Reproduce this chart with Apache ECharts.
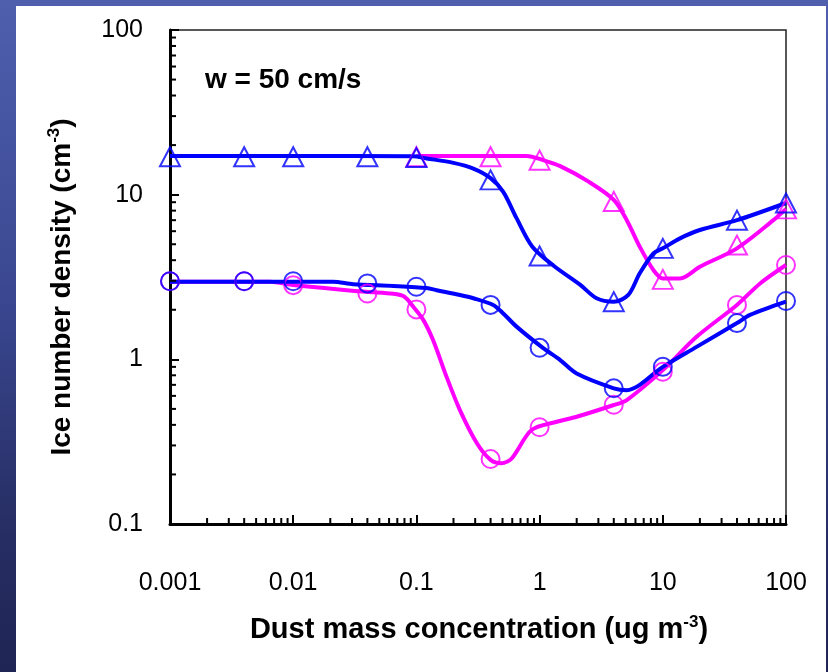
<!DOCTYPE html>
<html>
<head>
<meta charset="utf-8">
<script src="https://cdn.jsdelivr.net/npm/echarts@6/dist/echarts.min.js"></script>
<style>
  html, body { margin: 0; padding: 0; }
  body { width: 828px; height: 672px; position: relative; overflow: hidden;
         background: linear-gradient(180deg, #4f5fae 0%, #3a4790 45%, #262d62 80%, #1f2554 100%); }
  #panel { position: absolute; left: 16px; top: 6px; width: 810px; height: 666px; background: #fff; }
  #chart { position: absolute; left: 0; top: 0; width: 828px; height: 672px; }
</style>
</head>
<body>
<div id="panel"></div>
<div id="chart"></div>
<script>
// ---- data ----
var markerX = [0.001, 0.004, 0.01, 0.04, 0.1, 0.4, 1, 4, 10, 40, 100];
var blueTriangle = [17, 17, 17, 17, 16.8, 12.3, 4.24, 2.24, 4.72, 7.0, 8.9];
var blueCircle = [2.98, 2.98, 2.98, 2.89, 2.76, 2.14, 1.175, 0.667, 0.90, 1.66, 2.26];
var magentaCircle = [2.98, 2.98, 2.82, 2.51, 2.01, 0.248, 0.387, 0.53, 0.84, 2.14, 3.74];
var magentaTriX = [0.1, 0.4, 1, 4, 10, 40, 100];
var magentaTriangle = [17, 17, 16.2, 9.1, 3.06, 4.94, 8.2];

// model curves (x, y)
var blueTriCurveX = [0.001, 0.01, 0.094, 0.121, 0.2, 0.29, 0.4, 0.507, 0.65, 0.87, 1.3, 2.14, 2.9, 4, 5.25, 6.5, 8.4, 10, 13.8, 20, 40, 100];
var blueTriCurveY = [17.2, 17.2, 17.1, 16.6, 15.6, 14.4, 12.6, 10.4, 7.2, 4.85, 3.7, 2.83, 2.35, 2.24, 2.46, 3.33, 4.4, 4.72, 5.43, 6.1, 7.0, 8.9];
var magTriCurveX = [0.1, 0.4, 0.785, 1.07, 1.47, 2.5, 4, 5.1, 6.5, 8.4, 10, 13.8, 20, 40, 79, 100];
var magTriCurveY = [17.2, 17.2, 17.2, 16.2, 14.9, 12.0, 9.3, 7.0, 4.83, 3.48, 3.1, 3.1, 3.65, 4.72, 7.0, 8.2];
var blueCirCurveX = [0.001, 0.021, 0.0307, 0.065, 0.121, 0.146, 0.226, 0.29, 0.42, 0.507, 0.65, 1.07, 1.47, 2.0, 4, 5.1, 10, 18.8, 40, 51, 100];
var blueCirCurveY = [2.96, 2.96, 2.86, 2.79, 2.71, 2.63, 2.46, 2.35, 2.14, 1.9, 1.58, 1.17, 0.99, 0.82, 0.667, 0.65, 0.9, 1.19, 1.66, 1.86, 2.24];
var magCirCurveX = [0.001, 0.0065, 0.01, 0.039, 0.065, 0.08, 0.094, 0.114, 0.137, 0.176, 0.226, 0.31, 0.4, 0.49, 0.594, 0.86, 1.38, 2.0, 4, 5.1, 10, 18.8, 40, 61.6, 100];
var magCirCurveY = [2.96, 2.96, 2.83, 2.57, 2.5, 2.4, 2.09, 1.73, 1.3, 0.78, 0.49, 0.309, 0.245, 0.234, 0.25, 0.372, 0.418, 0.448, 0.528, 0.566, 0.86, 1.37, 2.14, 2.89, 3.74];

// axis ticks
var xTickLabels = ['0.001', '0.01', '0.1', '1', '10', '100'];
var yTickLabels = ['0.1', '1', '10', '100'];
var minorMult = [2, 3, 4, 5, 6, 7, 8, 9];
var xDecades = [0.001, 0.01, 0.1, 1, 10];
var yDecades = [0.1, 1, 10];

function pairs(xs, ys) { return xs.map(function (x, i) { return [x, ys[i]]; }); }
function minorList(decs) {
  var out = [];
  decs.forEach(function (d) { minorMult.forEach(function (m) { out.push([+(d * m).toPrecision(3)]); }); });
  return out;
}
function fmt(labels) {
  return function (v) {
    for (var i = 0; i < labels.length; i++) {
      if (Math.abs(Math.log10(+labels[i]) - Math.log10(v)) < 1e-6) return labels[i];
    }
    return '';
  };
}

var BLUE = '#0000ff', MAG = '#ff00ff';
var FONT = "'Liberation Sans', Arial, sans-serif";
var X0 = 0.001, Y0 = 0.1;

var chart = echarts.init(document.getElementById('chart'), null, { renderer: 'canvas' });

function lineSeries(data, color) {
  return { type: 'line', data: data, showSymbol: false, symbol: 'none', smooth: 0.3,
    lineStyle: { color: color, width: 4 }, z: 3, silent: true, animation: false };
}
function markerSeries(data, color, sym, size) {
  return { type: 'scatter', data: data, symbol: sym, symbolSize: size, clip: false,
    itemStyle: { color: 'rgba(0,0,0,0)', borderColor: color, borderWidth: 2 }, z: 4, silent: true, animation: false };
}
function minorTickSeries(data, isX) {
  return { type: 'custom', data: data, silent: true, animation: false, z: 5, clip: false,
    renderItem: function (params, api) {
      var v = api.value(0);
      var p = isX ? api.coord([v, Y0]) : api.coord([X0, v]);
      var shape = isX ? { x1: p[0], y1: p[1], x2: p[0], y2: p[1] - 6 }
                      : { x1: p[0], y1: p[1], x2: p[0] + 6, y2: p[1] };
      return { type: 'line', shape: shape, style: { stroke: '#000', lineWidth: 2 } };
    },
    encode: isX ? { x: 0 } : { y: 0 }
  };
}

var option = {
  backgroundColor: 'transparent',
  animation: false,
  grid: { left: 170, top: 30, width: 616, height: 494, show: true, borderColor: '#222', borderWidth: 1.5, backgroundColor: 'transparent' },
  xAxis: {
    type: 'log', logBase: 10, min: 0.001, max: 100,
    axisLine: { show: true, onZero: false, lineStyle: { color: '#000', width: 3 } },
    axisTick: { show: true, inside: true, length: 9, lineStyle: { color: '#000', width: 2 } },
    splitLine: { show: false },
    axisLabel: { color: '#000', fontSize: 25, fontFamily: FONT, margin: 47, formatter: fmt(xTickLabels) }
  },
  yAxis: {
    type: 'log', logBase: 10, min: 0.1, max: 100,
    axisLine: { show: true, onZero: false, lineStyle: { color: '#000', width: 3 } },
    axisTick: { show: true, inside: true, length: 9, lineStyle: { color: '#000', width: 2 } },
    splitLine: { show: false },
    axisLabel: { color: '#000', fontSize: 25, fontFamily: FONT, margin: 27, formatter: fmt(yTickLabels) }
  },
  graphic: [
    { type: 'text', left: 205, top: 66, style: { text: 'w = 50 cm/s', font: "bold 28px " + FONT, fill: '#000' } },
    { type: 'text', x: 62, y: 287, rotation: Math.PI / 2,
      style: { text: '{a|Ice number density (cm}{s|-3}{a|)}', align: 'center', verticalAlign: 'middle',
        rich: { a: { font: "bold 28px " + FONT, fill: '#000', lineHeight: 32 },
                s: { font: "bold 17px " + FONT, fill: '#000', lineHeight: 32, verticalAlign: 'top' } } } },
    { type: 'text', x: 479, y: 630,
      style: { text: '{a|Dust mass concentration (ug m}{s|-3}{a|)}', align: 'center', verticalAlign: 'middle',
        rich: { a: { font: "bold 29px " + FONT, fill: '#000', lineHeight: 32 },
                s: { font: "bold 17px " + FONT, fill: '#000', lineHeight: 32, verticalAlign: 'top' } } } }
  ],
  series: [
    lineSeries(pairs(magCirCurveX, magCirCurveY), MAG),
    lineSeries(pairs(magTriCurveX, magTriCurveY), MAG),
    markerSeries(pairs(markerX, magentaCircle), MAG, 'circle', 18),
    markerSeries(pairs(magentaTriX, magentaTriangle), MAG, 'triangle', [20, 19]),
    lineSeries(pairs(blueCirCurveX, blueCirCurveY), BLUE),
    lineSeries(pairs(blueTriCurveX, blueTriCurveY), BLUE),
    markerSeries(pairs(markerX, blueCircle), BLUE, 'circle', 18),
    markerSeries(pairs(markerX, blueTriangle), BLUE, 'triangle', [20, 19]),
    minorTickSeries(minorList(xDecades), true),
    minorTickSeries(minorList(yDecades), false)
  ]
};
chart.setOption(option);
</script>
</body>
</html>
